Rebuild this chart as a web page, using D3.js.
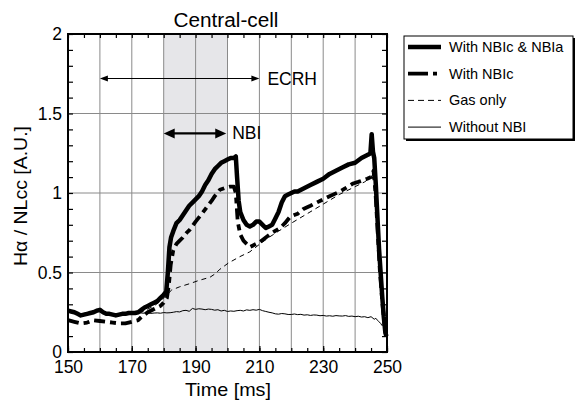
<!DOCTYPE html>
<html>
<head>
<meta charset="utf-8">
<script src="https://cdn.jsdelivr.net/npm/d3@7"></script>
<style>
  html, body { margin: 0; padding: 0; background: #fff; }
  svg { display: block; font-family: "Liberation Sans", Arial, Helvetica, sans-serif; }
</style>
</head>
<body>
<svg id="chart" width="576" height="400"></svg>
<script>
// ---------------- DATA ----------------
const title = "Central-cell";
const xLabel = "Time [ms]";
const yLabel = "Hα / NLcc [A.U.]";
const xTickLabels = [150, 170, 190, 210, 230, 250];
const yTickLabels = [0, 0.5, 1, 1.5, 2];
const shadeRange = [180, 200];
const ecrhArrow = { from: 160, to: 210, level: 1.72, label: "ECRH" };
const nbiArrow = { from: 180, to: 199.6, level: 1.375, label: "NBI" };
const seriesNames = ["With NBIc & NBIa", "With NBIc", "Gas only", "Without NBI"];

// With NBIc & NBIa
const tBoth = [150,151,152,153,154,155,156,157,158,159,160,161,162,163,164,165,166,167,168,169,170,171,172,173,174,175,176,177,178,179,180,180.8,181.3,181.8,182.3,183,184,185,186,187,188,189,190,191,192,193,194,195,196,197,198,199,200,201,202,202.6,203,203.5,204,205,206,207,208,209,210,211,212,213,214,215,216,217,218,219,220,221,222,224,226,228,230,232,234,236,238,240,242,244,244.8,245.2,245.6,246,246.5,247,247.5,248,248.5,249,249.5,249.8];
const vBoth = [0.26,0.255,0.25,0.24,0.23,0.235,0.24,0.245,0.25,0.26,0.265,0.25,0.24,0.24,0.235,0.23,0.235,0.24,0.24,0.245,0.245,0.245,0.25,0.265,0.28,0.29,0.3,0.31,0.32,0.34,0.36,0.38,0.5,0.66,0.72,0.76,0.81,0.83,0.86,0.89,0.92,0.94,0.96,0.98,1.01,1.05,1.08,1.12,1.15,1.17,1.19,1.2,1.21,1.22,1.22,1.23,1.1,0.95,0.88,0.83,0.8,0.79,0.8,0.82,0.82,0.8,0.78,0.79,0.8,0.84,0.88,0.94,0.98,0.99,1.0,1.01,1.01,1.03,1.05,1.07,1.09,1.12,1.14,1.16,1.18,1.19,1.22,1.24,1.25,1.37,1.26,1.22,1.05,0.85,0.65,0.5,0.35,0.22,0.12,0.1];

// With NBIc
const tNbic = [150,152,154,156,158,160,162,164,166,168,170,172,173,175,177,179,180,181,181.6,182.2,183,184,185,186,187.2,188.2,190,192,193.5,195,196,197.6,199,200.8,202,202.6,203.2,204,205,206,207,208,209,210,212,214,216.5,218,219.6,222,223.8,226,228,230,232,235.3,237,239.4,241,243.8,245,245.8,246.4,247.1,247.8,248.6,249.3,249.8];
const vNbic = [0.2,0.19,0.18,0.185,0.2,0.195,0.19,0.185,0.18,0.18,0.19,0.2,0.22,0.25,0.27,0.29,0.31,0.34,0.42,0.55,0.64,0.68,0.7,0.72,0.75,0.77,0.82,0.87,0.91,0.95,0.98,1.02,1.03,1.04,1.04,1.0,0.82,0.74,0.7,0.68,0.66,0.67,0.68,0.69,0.72,0.75,0.78,0.81,0.85,0.87,0.9,0.92,0.94,0.96,0.98,1.01,1.03,1.06,1.07,1.09,1.1,1.14,1.0,0.75,0.5,0.3,0.15,0.1];

// Gas only
const tGas = [150,152,154,156,158,160,162,164,166,168,170,172,173,175,177,179,180,181,182.5,185,188.2,191,194.5,196,197.6,200.3,203.9,207,210.2,213.3,216,220,225,230,235,240,243,245,246,246.8,247.5,248.3,249,249.5];
const vGas = [0.25,0.245,0.235,0.24,0.25,0.255,0.245,0.235,0.235,0.24,0.24,0.245,0.25,0.27,0.29,0.32,0.34,0.36,0.39,0.41,0.43,0.45,0.47,0.49,0.52,0.56,0.6,0.63,0.68,0.725,0.76,0.81,0.87,0.93,0.99,1.04,1.07,1.1,1.13,0.9,0.6,0.35,0.22,0.15];

// Without NBI
const tNone = [150,151,152,153,154,155,156,157,158,159,160,161,162,163,164,165,166,167,168,169,170,171,172,173,174,175,176,177,178,179,180,181,182,183,184,185,186,187,188,189,190,191,192,193,194,195,196,197,198,199,200,201,202,203,204,205,206,207,208,209,210,211,212,213,214,215,216,217,218,219,220,221,222,223,224,225,226,227,228,229,230,231,232,233,234,235,236,237,238,239,240,241,242,243,244,245,246,246.5,247,247.5,248,248.5];
const vNone = [0.26,0.255,0.25,0.245,0.24,0.243,0.247,0.25,0.252,0.258,0.262,0.25,0.245,0.243,0.24,0.236,0.238,0.242,0.24,0.244,0.246,0.243,0.247,0.245,0.244,0.246,0.243,0.245,0.246,0.244,0.248,0.246,0.247,0.25,0.254,0.252,0.26,0.262,0.256,0.274,0.268,0.272,0.27,0.266,0.27,0.268,0.263,0.266,0.258,0.262,0.255,0.258,0.256,0.26,0.262,0.258,0.265,0.262,0.266,0.263,0.268,0.26,0.255,0.25,0.246,0.24,0.238,0.242,0.24,0.236,0.236,0.239,0.235,0.237,0.232,0.234,0.23,0.233,0.232,0.228,0.23,0.226,0.228,0.225,0.229,0.227,0.226,0.229,0.224,0.226,0.222,0.225,0.22,0.222,0.216,0.222,0.206,0.212,0.2,0.19,0.18,0.165];

// ---------------- CHART ----------------
const svg = d3.select("#chart");
const L = 68, R = 387, T = 34, B = 352;
const x = d3.scaleLinear().domain([150, 250]).range([L, R]);
const y = d3.scaleLinear().domain([0, 2]).range([B, T]);

// shaded NBI region
svg.append("rect")
  .attr("x", x(shadeRange[0])).attr("y", T)
  .attr("width", x(shadeRange[1]) - x(shadeRange[0])).attr("height", B - T)
  .attr("fill", "#e6e6e9");

// gridlines
const gridX = d3.range(160, 250, 10);
const gridY = [0.5, 1, 1.5];
svg.append("g").selectAll("line").data(gridX).join("line")
  .attr("x1", d => x(d)).attr("x2", d => x(d)).attr("y1", T).attr("y2", B)
  .attr("stroke", "#8a8a8a").attr("stroke-width", 1);
svg.append("g").selectAll("line").data(gridY).join("line")
  .attr("x1", L).attr("x2", R).attr("y1", d => y(d)).attr("y2", d => y(d))
  .attr("stroke", "#8a8a8a").attr("stroke-width", 1);

// series
const zip = (t, v) => t.map((d, i) => [d, v[i]]);
const line = d3.line().x(d => x(d[0])).y(d => y(d[1]));
const styles = [
  { data: zip(tNone, vNone), w: 1, dash: null },
  { data: zip(tGas, vGas), w: 1, dash: "5,4" },
  { data: zip(tNbic, vNbic), w: 3.8, dash: "11,5,6,5" },
  { data: zip(tBoth, vBoth), w: 4.5, dash: null }
];
const gLines = svg.append("g");
styles.forEach(s => {
  gLines.append("path").attr("d", line(s.data))
    .attr("fill", "none").attr("stroke", "#000")
    .attr("stroke-width", s.w)
    .attr("stroke-linejoin", "round")
    .attr("stroke-dasharray", s.dash);
});

// arrows
function arrow(a, lw, hl, hw) {
  const g = svg.append("g");
  const x1 = x(a.from), x2 = x(a.to), yy = y(a.level);
  g.append("line").attr("x1", x1 + hl * 0.8).attr("x2", x2 - hl * 0.8)
    .attr("y1", yy).attr("y2", yy).attr("stroke", "#000").attr("stroke-width", lw);
  g.append("path").attr("d", `M${x1},${yy}L${x1 + hl},${yy - hw}L${x1 + hl},${yy + hw}Z`).attr("fill", "#000");
  g.append("path").attr("d", `M${x2},${yy}L${x2 - hl},${yy - hw}L${x2 - hl},${yy + hw}Z`).attr("fill", "#000");
  return g;
}
arrow(ecrhArrow, 1.2, 8, 3);
arrow(nbiArrow, 2.2, 11, 5);
svg.append("text").attr("x", x(ecrhArrow.to) + 8).attr("y", y(ecrhArrow.level) + 6)
  .attr("font-size", 17.5).text(ecrhArrow.label);
svg.append("text").attr("x", x(nbiArrow.to) + 6).attr("y", y(nbiArrow.level) + 6)
  .attr("font-size", 17.5).text(nbiArrow.label);

// axes (inward ticks)
const fmt = d => String(d);
function styleAxis(g) {
  g.select(".domain").remove();
  g.selectAll("line").attr("stroke", "#000").attr("stroke-width", 1.2);
  g.selectAll("text").attr("font-size", 17.5).attr("fill", "#000")
    .attr("font-family", "Liberation Sans, Arial, sans-serif");
}
const minorX = d3.range(150, 251, 5);
const minorY = d3.range(0, 21, 1).map(d => d / 10);
svg.append("g").attr("transform", `translate(0,${B})`)
  .call(d3.axisBottom(x).tickValues(minorX).tickSize(-4).tickFormat("")).call(styleAxis);
svg.append("g").attr("transform", `translate(0,${B})`)
  .call(d3.axisBottom(x).tickValues(xTickLabels).tickSize(-6).tickPadding(9).tickFormat(fmt)).call(styleAxis);
svg.append("g").attr("transform", `translate(0,${T})`)
  .call(d3.axisTop(x).tickValues(minorX).tickSize(-4).tickFormat("")).call(styleAxis);
svg.append("g").attr("transform", `translate(${L},0)`)
  .call(d3.axisLeft(y).tickValues(minorY).tickSize(-5).tickFormat("")).call(styleAxis);
svg.append("g").attr("transform", `translate(${L},0)`)
  .call(d3.axisLeft(y).tickValues(yTickLabels).tickSize(0).tickPadding(6).tickFormat(fmt)).call(styleAxis);
svg.append("g").attr("transform", `translate(${R},0)`)
  .call(d3.axisRight(y).tickValues(minorY).tickSize(-5).tickFormat("")).call(styleAxis);

// frame
svg.append("rect").attr("x", L).attr("y", T).attr("width", R - L).attr("height", B - T)
  .attr("fill", "none").attr("stroke", "#000").attr("stroke-width", 2);

// titles
svg.append("text").attr("x", 226).attr("y", 27).attr("text-anchor", "middle")
  .attr("font-size", 20).attr("textLength", 105).attr("lengthAdjust", "spacingAndGlyphs").text(title);
svg.append("text").attr("x", 228).attr("y", 396).attr("text-anchor", "middle")
  .attr("font-size", 18.5).attr("textLength", 86).attr("lengthAdjust", "spacingAndGlyphs").text(xLabel);
svg.append("text").attr("transform", `translate(27,196) rotate(-90)`).attr("text-anchor", "middle")
  .attr("font-size", 18).attr("textLength", 140).attr("lengthAdjust", "spacingAndGlyphs").text(yLabel);

// legend
const lg = svg.append("g");
const lx = 404, ly = 36, lw = 169, lh = 103;
lg.append("rect").attr("x", lx + 2).attr("y", ly + 2).attr("width", lw).attr("height", lh).attr("fill", "#000");
lg.append("rect").attr("x", lx).attr("y", ly).attr("width", lw).attr("height", lh)
  .attr("fill", "#fff").attr("stroke", "#000").attr("stroke-width", 1);
const legStyles = [
  { w: 4.5, dash: null }, { w: 3.8, dash: "20,5,4,5" }, { w: 1, dash: "6,4" }, { w: 1, dash: null }
];
seriesNames.forEach((n, i) => {
  const yy = ly + 11 + i * 26.7;
  lg.append("line").attr("x1", lx + 4).attr("x2", lx + 37).attr("y1", yy).attr("y2", yy)
    .attr("stroke", "#000").attr("stroke-width", legStyles[i].w)
    .attr("stroke-dasharray", legStyles[i].dash);
  lg.append("text").attr("x", lx + 45).attr("y", yy + 5).attr("font-size", 14.5).text(n);
});
</script>
</body>
</html>
